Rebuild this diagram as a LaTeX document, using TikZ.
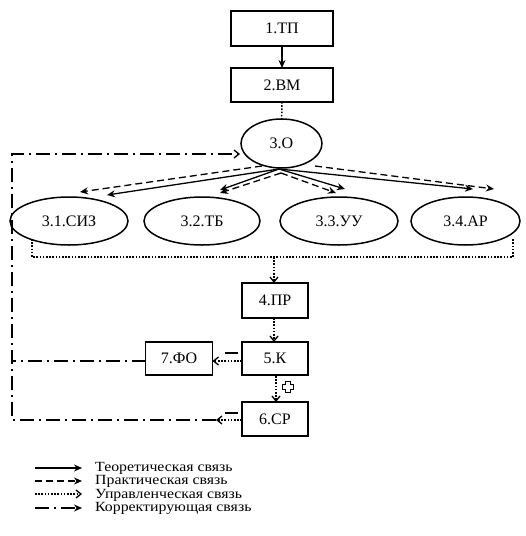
\documentclass[tikz,border=0pt]{standalone}
\usepackage{fontspec}
\setmainfont{Liberation Serif}
\newfontfamily\legfont{Liberation Serif}[FakeStretch=1.13]
\usetikzlibrary{arrows.meta,shapes.geometric}
\begin{document}
\begin{tikzpicture}[x=1pt,y=-1pt,
  box/.style={draw,line width=1.6pt,minimum width=66pt,minimum height=35pt,inner sep=0pt,outer sep=0pt,font=\fontsize{16}{16}\selectfont},
  oval/.style={draw,ellipse,line width=1.5pt,minimum height=48pt,inner sep=0pt,outer sep=0pt,font=\fontsize{16}{16}\selectfont},
  theo/.style={line width=1.3pt,-{Stealth[length=8pt,width=7pt]}},
  prac/.style={line width=1.3pt,dash pattern=on 7pt off 4pt,-{Stealth[length=8pt,width=7pt]}},
  upr/.style={line width=1.5pt,dash pattern=on 1.6pt off 1.6pt},
  upra/.style={upr,-{Straight Barb[length=5pt,width=8pt,line width=1.3pt]}},
  korr/.style={line width=1.3pt,dash pattern=on 14pt off 5pt on 2pt off 5pt},
  korra/.style={korr,-{Straight Barb[length=5pt,width=8pt,line width=1.3pt]}},
  legtext/.style={anchor=west,inner sep=0pt,font=\legfont\fontsize{14}{14}\selectfont}]
\useasboundingbox (0,0) rectangle (526,536);
% boxes
\node[box,minimum width=102pt] (tp) at (282,28.5) {1.ТП};
\node[box,minimum width=102pt,minimum height=34pt] (vm) at (282,85) {2.ВМ};
\node[oval,minimum width=81pt,minimum height=49pt] (o) at (281.5,143.5) {3.О};
\node[oval,minimum width=118pt] (e1) at (69,221) {3.1.СИЗ};
\node[oval,minimum width=116pt] (e2) at (202,221) {3.2.ТБ};
\node[oval,minimum width=118pt] (e3) at (339,221) {3.3.УУ};
\node[oval,minimum width=109pt] (e4) at (465.5,221) {3.4.АР};
\node[box] (pr) at (275,300.5) {4.ПР};
\node[box,minimum height=33pt] (k) at (275,358.5) {5.К};
\node[box,minimum height=34pt] (sr) at (275,419) {6.СР};
\node[box,minimum width=67pt,minimum height=33pt] (fo) at (179,358.5) {7.ФО};
% connectors top
\draw[theo] (tp) -- (vm);
\draw[upr] (vm) -- (o);
\coordinate (os) at (279,169);
\coordinate (a1) at (107,195);
\coordinate (a2) at (220,190);
\coordinate (a3) at (345,189);
\coordinate (a4) at (473,189);
\draw[theo] (os) -- (a1);
\draw[theo] (os) -- (a2);
\draw[theo] (os) -- (a3);
\draw[theo] (os) -- (a4);
\coordinate (d1s) at (262,166);
\coordinate (d1) at (80,192);
\coordinate (dap) at (281,173);
\coordinate (d2) at (220,193);
\coordinate (d3) at (336,193);
\coordinate (d4s) at (315,166);
\coordinate (d4) at (494,189);
\draw[prac] (d1s) -- (d1);
\draw[prac] (dap) -- (d2);
\draw[prac] (dap) -- (d3);
\draw[prac] (d4s) -- (d4);
% dotted bracket
\coordinate (bl) at (32,239);
\coordinate (br) at (513,239);
\coordinate (bm) at (274,257);
\draw[upr] (bl) |- (bm) -| (br);
\draw[upra] (bm) -- (pr.north -| bm);
\draw[upra] (pr.south -| bm) -- (k.north -| bm);
\coordinate (m5) at (276,376);
\draw[upra] (m5) -- (sr.north -| m5);
% plus sign
\draw[line width=1.4pt] (285.5,381.5) -- (290.5,381.5) -- (290.5,384.5) -- (293.5,384.5) -- (293.5,389.5) -- (290.5,389.5) -- (290.5,392.5) -- (285.5,392.5) -- (285.5,389.5) -- (282.5,389.5) -- (282.5,384.5) -- (285.5,384.5) -- cycle;
% 5 -> 7
\draw[upra] (k.west |- 0,361) -- (fo.east |- 0,361);
\coordinate (mi1a) at (225,353);
\coordinate (mi1b) at (238,353);
\draw[line width=1.4pt] (mi1a) -- (mi1b);
% 6 -> left
\coordinate (s6) at (216,420);
\draw[upra] (sr.west |- s6) -- (s6);
\coordinate (mi2a) at (225,413);
\coordinate (mi2b) at (238,413);
\draw[line width=1.4pt] (mi2a) -- (mi2b);
\coordinate (cl) at (12,420);
\coordinate (ct) at (12,154);
\coordinate (c3o) at (240,154);
\draw[korra] (s6) -- (cl) -- (ct) -- (c3o);
\coordinate (fl) at (12,361);
\draw[korr] (fo.west |- fl) -- (fl);
% legend
\coordinate (l1a) at (35,468); \coordinate (l1b) at (82,468);
\coordinate (l2a) at (35,481); \coordinate (l2b) at (82,481);
\coordinate (l3a) at (35,494); \coordinate (l3b) at (82,494);
\coordinate (l4a) at (35,508); \coordinate (l4b) at (82,508);
\draw[theo] (l1a) -- (l1b);
\draw[prac] (l2a) -- (l2b);
\draw[upra] (l3a) -- (l3b);
\draw[line width=1.3pt,dash pattern=on 14pt off 5pt on 2pt off 5pt,-{Stealth[length=8pt,width=7pt]}] (l4a) -- (l4b);
\node[legtext] (t1) at (95,468) {Теоретическая связь};
\node[legtext] (t2) at (95,481.5) {Практическая связь};
\node[legtext] (t3) at (95,495) {Управленческая связь};
\node[legtext] (t4) at (95,508.5) {Корректирующая связь};
\end{tikzpicture}
\end{document}
